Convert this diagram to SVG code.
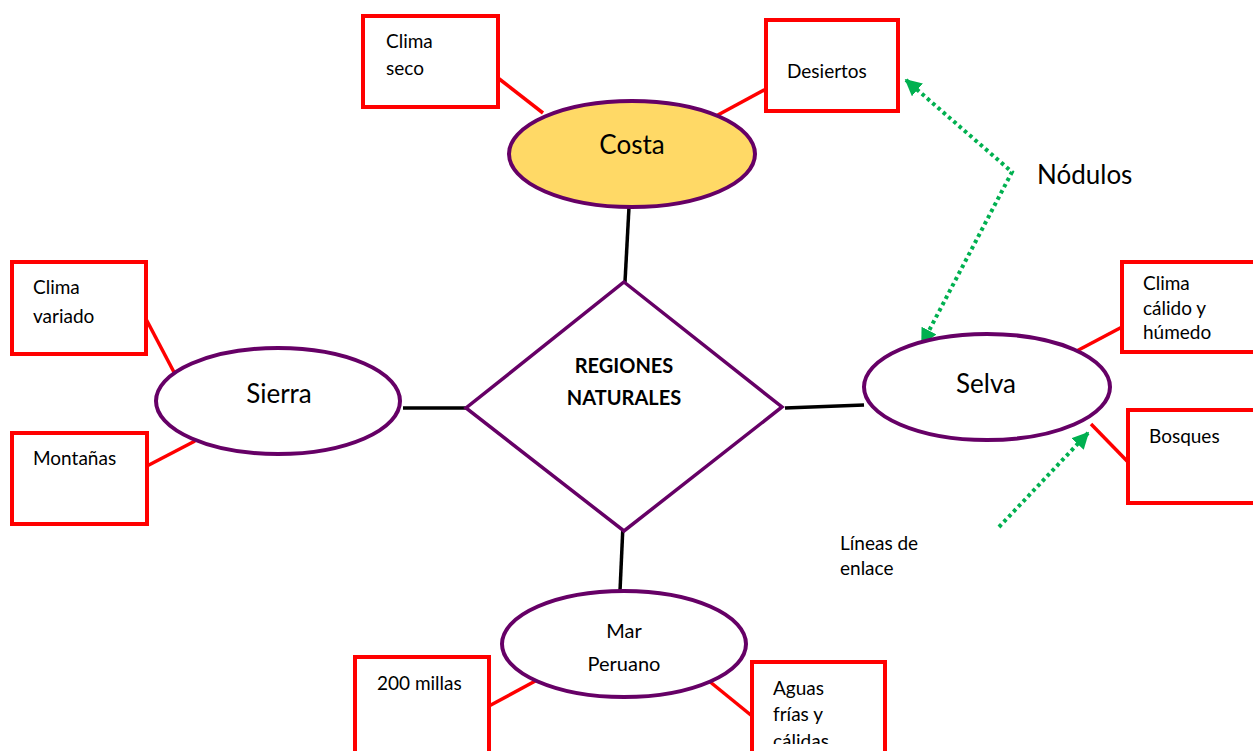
<svg xmlns="http://www.w3.org/2000/svg" width="1253" height="751" viewBox="0 0 1253 751">
<defs>
<style>
.box{fill:#fff;stroke:#ff0000;stroke-width:4}
.ell{fill:#fff;stroke:#660066;stroke-width:4}
.red{stroke:#ff0000;stroke-width:3.5;fill:none}
.blk{stroke:#000;stroke-width:3.5;fill:none}
.grn{stroke:#00b050;stroke-width:4;fill:none;stroke-dasharray:3.5 3.5}
.t{font-family:Lato,"Open Sans","Liberation Sans",sans-serif;font-size:19px;fill:#000}
.big{font-size:26px}
.bold{font-weight:bold;font-size:20px}
.c{text-anchor:middle}
</style>
<marker id="ah" viewBox="0 0 10 10" refX="9" refY="5" markerWidth="4.2" markerHeight="4.2" orient="auto-start-reverse" markerUnits="strokeWidth">
<path d="M0,0 L10,5 L0,10 z" fill="#00b050"/>
</marker>
<clipPath id="clipAg"><rect x="752" y="662" width="140" height="82"/></clipPath>
</defs>
<rect width="1253" height="751" fill="#fff"/>
<g id="connectors">
<line class="red" x1="498" y1="78" x2="543" y2="113"/>
<line class="red" x1="766" y1="89" x2="716" y2="116"/>
<line class="blk" x1="629" y1="207" x2="625" y2="282"/>
<line class="blk" x1="403" y1="408" x2="466" y2="408"/>
<line class="blk" x1="785" y1="408" x2="864" y2="405"/>
<line class="blk" x1="623" y1="525" x2="620" y2="591"/>
<line class="red" x1="146" y1="319" x2="176" y2="376"/>
<line class="red" x1="147" y1="466" x2="195" y2="441"/>
<line class="red" x1="1071" y1="354" x2="1122" y2="327"/>
<line class="red" x1="1091" y1="424" x2="1128" y2="462"/>
<line class="red" x1="489" y1="706" x2="539" y2="679"/>
<line class="red" x1="709" y1="681" x2="752" y2="716"/>
<polyline class="grn" points="906,80 1012,172 922,344" marker-start="url(#ah)" marker-end="url(#ah)"/>
<line class="grn" x1="999" y1="527" x2="1088" y2="433" marker-end="url(#ah)"/>
</g>
<g id="node-clima-seco">
<rect class="box" x="363" y="16" width="135" height="91"/>
<text class="t" x="386" y="48">Clima</text>
<text class="t" x="386" y="75">seco</text>
</g>
<g id="node-desiertos">
<rect class="box" x="766" y="20" width="132" height="91"/>
<text class="t" x="787" y="78">Desiertos</text>
</g>
<g id="node-costa">
<ellipse class="ell" cx="632" cy="154" rx="123" ry="53" style="fill:#ffd966"/>
<text class="t big c" x="632" y="154">Costa</text>
</g>
<g id="node-regiones">
<polygon points="624,282 782,407 624,531 466,408" fill="#fff" stroke="#660066" stroke-width="3.5"/>
<text class="t bold c" x="624" y="373">REGIONES</text>
<text class="t bold c" x="624" y="405">NATURALES</text>
</g>
<g id="node-sierra">
<ellipse class="ell" cx="278" cy="401" rx="122" ry="53"/>
<text class="t big c" x="279" y="403">Sierra</text>
</g>
<g id="node-clima-variado">
<rect class="box" x="12" y="262" width="134" height="92"/>
<text class="t" x="33" y="294">Clima</text>
<text class="t" x="33" y="323">variado</text>
</g>
<g id="node-montanas">
<rect class="box" x="12" y="433" width="135" height="91"/>
<text class="t" x="33" y="465">Montañas</text>
</g>
<g id="node-selva">
<ellipse class="ell" cx="987" cy="387" rx="123" ry="53"/>
<text class="t big c" x="986" y="393">Selva</text>
</g>
<g id="node-clima-calido">
<rect class="box" x="1122" y="262" width="140" height="90"/>
<text class="t" x="1143" y="290">Clima</text>
<text class="t" x="1143" y="315">cálido y</text>
<text class="t" x="1143" y="339">húmedo</text>
</g>
<g id="node-bosques">
<rect class="box" x="1128" y="410" width="135" height="93"/>
<text class="t" x="1149" y="443">Bosques</text>
</g>
<g id="node-mar">
<ellipse class="ell" cx="624" cy="644" rx="122" ry="53"/>
<text class="t c" x="624" y="638" style="font-size:20px">Mar</text>
<text class="t c" x="624" y="671" style="font-size:20px">Peruano</text>
</g>
<g id="node-200">
<rect class="box" x="355" y="657" width="134" height="100"/>
<text class="t" x="377" y="690">200 millas</text>
</g>
<g id="node-aguas">
<rect class="box" x="752" y="662" width="133" height="100"/>
<g clip-path="url(#clipAg)">
<text class="t" x="773" y="695">Aguas</text>
<text class="t" x="773" y="721">frías y</text>
<text class="t" x="773" y="748">cálidas</text>
</g>
</g>
<g id="labels">
<text class="t big" x="1037" y="184">Nódulos</text>
<text class="t" x="840" y="550">Líneas de</text>
<text class="t" x="840" y="575">enlace</text>
</g>
</svg>
